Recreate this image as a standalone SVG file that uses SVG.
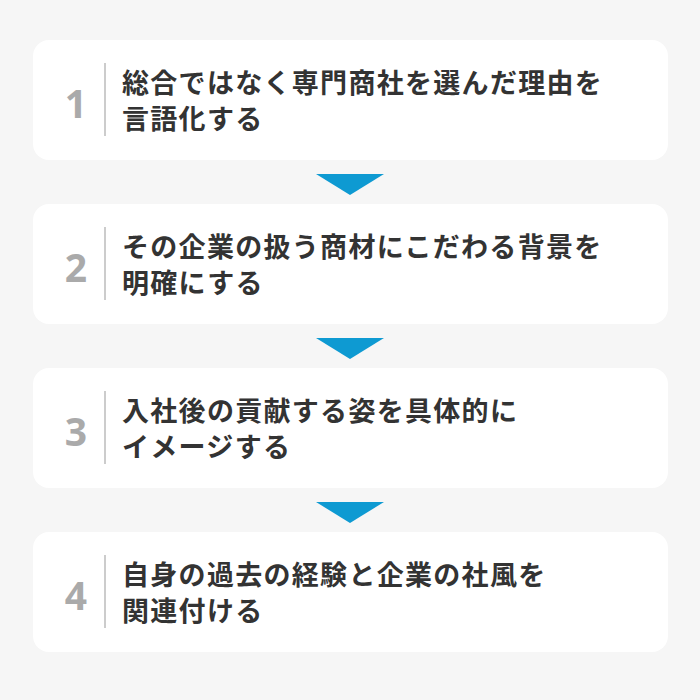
<svg xmlns="http://www.w3.org/2000/svg" width="700" height="700" viewBox="0 0 700 700">
<style>
.box{fill:#ffffff}
.num{font-family:"Noto Sans","Liberation Sans",sans-serif;font-weight:700;font-size:39px;fill:#aaaaaa;text-anchor:middle}
.sep{stroke:#cccccc;stroke-width:2}
.txt{font-family:"Noto Sans CJK JP","Noto Sans",sans-serif;font-weight:700;font-size:27px;fill:#333333;letter-spacing:1.3px}
.arrow{fill:#0e9ad2}
</style>
<rect width="700" height="700" fill="#f6f6f6"/>
<g id="step1">
<rect class="box" x="33" y="40" width="635" height="120" rx="16"/>
<text class="num" x="76" y="118">1</text>
<line class="sep" x1="105" y1="63" x2="105" y2="136"/>
<text class="txt" x="122" y="93">総合ではなく専門商社を選んだ理由を</text>
<text class="txt" x="122" y="129">言語化する</text>
</g>
<g id="step2">
<rect class="box" x="33" y="204" width="635" height="120" rx="16"/>
<text class="num" x="76" y="282">2</text>
<line class="sep" x1="105" y1="227" x2="105" y2="300"/>
<text class="txt" x="122" y="257">その企業の扱う商材にこだわる背景を</text>
<text class="txt" x="122" y="293">明確にする</text>
</g>
<g id="step3">
<rect class="box" x="33" y="368" width="635" height="120" rx="16"/>
<text class="num" x="76" y="446">3</text>
<line class="sep" x1="105" y1="391" x2="105" y2="464"/>
<text class="txt" x="122" y="421">入社後の貢献する姿を具体的に</text>
<text class="txt" x="122" y="457">イメージする</text>
</g>
<g id="step4">
<rect class="box" x="33" y="532" width="635" height="120" rx="16"/>
<text class="num" x="76" y="610">4</text>
<line class="sep" x1="105" y1="555" x2="105" y2="628"/>
<text class="txt" x="122" y="585">自身の過去の経験と企業の社風を</text>
<text class="txt" x="122" y="621">関連付ける</text>
</g>
<g id="connectors">
<polygon class="arrow" points="316,174 384,174 350,195"/>
<polygon class="arrow" points="316,338 384,338 350,359"/>
<polygon class="arrow" points="316,502 384,502 350,523"/>
</g>
</svg>
